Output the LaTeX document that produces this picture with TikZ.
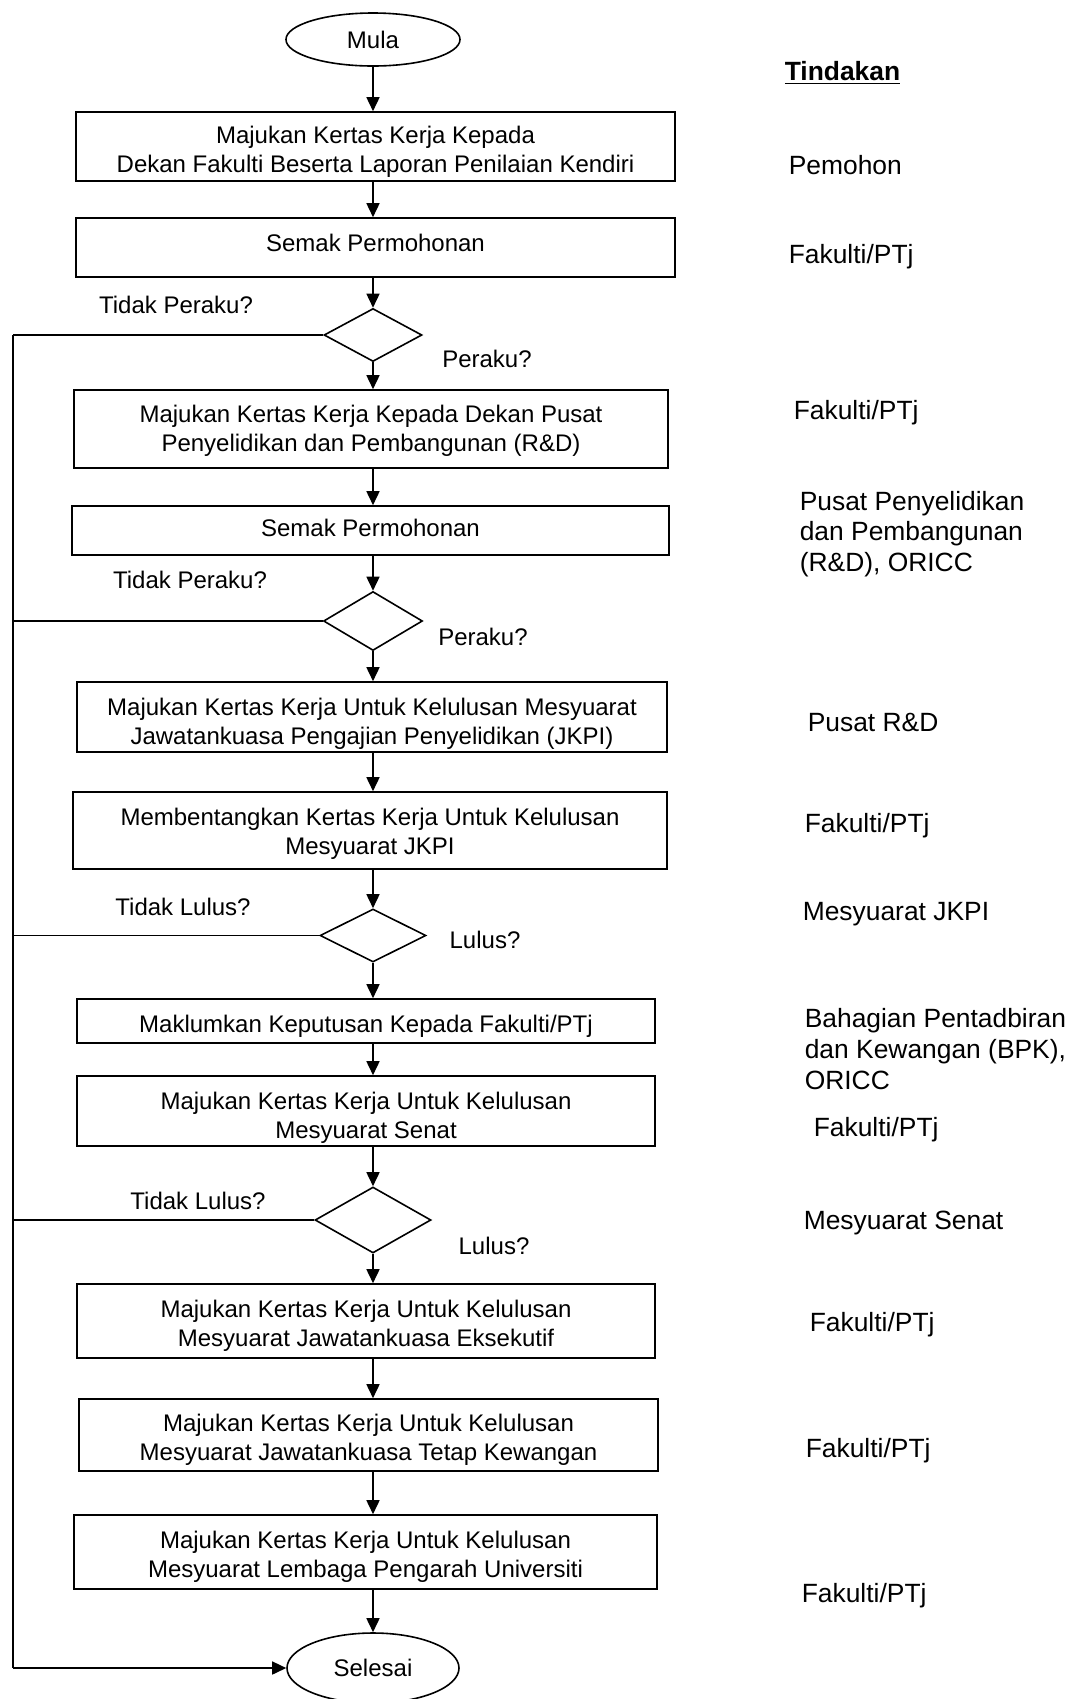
\documentclass[tikz,border=0pt]{standalone}
\usepackage{fontspec}
\setmainfont{Liberation Sans}
\usetikzlibrary{shapes.geometric,arrows.meta}
\begin{document}
\begin{tikzpicture}[x=0.5pt,y=-0.5pt, line width=0.8pt,
  every node/.style={font=\fontsize{12}{14.5}\selectfont},
  proc/.style={draw, rectangle, inner sep=0pt},
  txt/.style={align=center, inner sep=0pt},
  dec/.style={draw, diamond, inner sep=0pt},
  term/.style={draw, ellipse, inner sep=0pt},
  arr/.style={-{Triangle[width=6.5pt,length=7pt]}},
  act/.style={anchor=west, align=left, inner sep=0pt, font=\fontsize{13.2}{15.4}\selectfont},
  lbl/.style={inner sep=0pt}]
\useasboundingbox (0,0) rectangle (1086,1699);
\coordinate (ax) at (373,0);
\coordinate (L) at (13,0);

\node[term, minimum width=87pt, minimum height=26.5pt] (mula) at (373,39.5) {Mula};
\node[proc, minimum width=299.5pt, minimum height=34.5pt] (b1) at (375.5,146.5) {};
\node[txt] (b1t) at ([yshift=-2.7pt]b1.center) {Majukan Kertas Kerja Kepada\\Dekan Fakulti Beserta Laporan Penilaian Kendiri};
\node[proc, minimum width=299.5pt, minimum height=29.5pt] (b2) at (375.5,247.5) {};
\node[txt] (b2t) at ([yshift=2.5pt]b2.center) {Semak Permohonan};
\node[dec, minimum width=49pt, minimum height=26.5pt] (d1) at (373,335) {};
\node[proc, minimum width=297pt, minimum height=39pt] (b3) at (371,429) {};
\node[txt] (b3t) at ([yshift=-0.8pt]b3.center) {Majukan Kertas Kerja Kepada Dekan Pusat\\Penyelidikan dan Pembangunan (R\&D)};
\node[proc, minimum width=298.5pt, minimum height=24.5pt] (b4) at (370.5,530.5) {};
\node[txt] (b4t) at ([yshift=1.5pt]b4.center) {Semak Permohonan};
\node[dec, minimum width=49.5pt, minimum height=29.5pt] (d2) at (373,621) {};
\node[proc, minimum width=295pt, minimum height=35pt] (b5) at (372,717) {};
\node[txt] (b5t) at ([yshift=-3.3pt]b5.center) {Majukan Kertas Kerja Untuk Kelulusan Mesyuarat\\Jawatankuasa Pengajian Penyelidikan (JKPI)};
\node[proc, minimum width=297pt, minimum height=38.5pt] (b6) at (370,830.5) {};
\node[txt] (b6t) at ([yshift=-1.6pt]b6.center) {Membentangkan Kertas Kerja Untuk Kelulusan\\Mesyuarat JKPI};
\node[dec, minimum width=53pt, minimum height=26.5pt] (d3) at (373,935.5) {};
\node[proc, minimum width=289pt, minimum height=22pt] (b7) at (366,1021) {};
\node[txt] (b7t) at ([yshift=-2.5pt]b7.center) {Maklumkan Keputusan Kepada Fakulti/PTj};
\node[proc, minimum width=289pt, minimum height=35pt] (b8) at (366,1111) {};
\node[txt] (b8t) at ([yshift=-3.3pt]b8.center) {Majukan Kertas Kerja Untuk Kelulusan\\Mesyuarat Senat};
\node[dec, minimum width=58pt, minimum height=33pt] (d4) at (373,1220) {};
\node[proc, minimum width=289pt, minimum height=37pt] (b9) at (366,1321) {};
\node[txt] (b9t) at ([yshift=-2.2pt]b9.center) {Majukan Kertas Kerja Untuk Kelulusan\\Mesyuarat Jawatankuasa Eksekutif};
\node[proc, minimum width=289.5pt, minimum height=36pt] (b10) at (368.5,1435) {};
\node[txt] (b10t) at ([yshift=-2.6pt]b10.center) {Majukan Kertas Kerja Untuk Kelulusan\\Mesyuarat Jawatankuasa Tetap Kewangan};
\node[proc, minimum width=291.5pt, minimum height=37pt] (b11) at (365.5,1552) {};
\node[txt] (b11t) at ([yshift=-2.2pt]b11.center) {Majukan Kertas Kerja Untuk Kelulusan\\Mesyuarat Lembaga Pengarah Universiti};
\node[term, minimum width=86pt, minimum height=35pt] (sel) at (373,1668) {Selesai};

% main flow
\draw[arr] (mula.south) -- (b1.north -| ax);
\draw[arr] (b1.south -| ax) -- (b2.north -| ax);
\draw[arr] (b2.south -| ax) -- (d1.north);
\draw[arr] (d1.south) -- (b3.north -| ax);
\draw[arr] (b3.south -| ax) -- (b4.north -| ax);
\draw[arr] (b4.south -| ax) -- (d2.north);
\draw[arr] (d2.south) -- (b5.north -| ax);
\draw[arr] (b5.south -| ax) -- (b6.north -| ax);
\draw[arr] (b6.south -| ax) -- (d3.north);
\draw[arr] (d3.south) -- (b7.north -| ax);
\draw[arr] (b7.south -| ax) -- (b8.north -| ax);
\draw[arr] (b8.south -| ax) -- (d4.north);
\draw[arr] (d4.south) -- (b9.north -| ax);
\draw[arr] (b9.south -| ax) -- (b10.north -| ax);
\draw[arr] (b10.south -| ax) -- (b11.north -| ax);
\draw[arr] (b11.south -| ax) -- (sel.north);

% rejection branches
\draw (d1.west) -- (d1.west -| L);
\draw (d2.west) -- (d2.west -| L);
\draw (d3.west) -- (d3.west -| L);
\draw (d4.west) -- (d4.west -| L);
\draw (d1.west -| L) -- (sel.west -| L);
\draw[arr] (sel.west -| L) -- (sel.west);

% decision labels
\node[lbl] (t1) at (176,305) {Tidak Peraku?};
\node[lbl] (y1) at (487,359) {Peraku?};
\node[lbl] (t2) at (190,580) {Tidak Peraku?};
\node[lbl] (y2) at (483,637) {Peraku?};
\node[lbl] (t3) at (183,907) {Tidak Lulus?};
\node[lbl] (y3) at (485,940) {Lulus?};
\node[lbl] (t4) at (198,1201) {Tidak Lulus?};
\node[lbl] (y4) at (494,1246) {Lulus?};

% action column
\node[act] (h) at (784,73) {\underline{\textbf{Tindakan}}};
\node[act] (a1) at (788,165) {Pemohon};
\node[act] (a2) at (788,257) {Fakulti/PTj};
\node[act] (a3) at (793,413) {Fakulti/PTj};
\node[act] (a4) at (799,534) {Pusat Penyelidikan\\dan Pembangunan\\(R\&D), ORICC};
\node[act] (a5) at (807,722) {Pusat R\&D};
\node[act] (a6) at (804,826) {Fakulti/PTj};
\node[act] (a7) at (802,914) {Mesyuarat JKPI};
\node[act] (a8) at (804,1049) {Bahagian Pentadbiran\\dan Kewangan (BPK),\\ORICC};
\node[act] (a9) at (813,1130) {Fakulti/PTj};
\node[act] (a10) at (803,1223) {Mesyuarat Senat};
\node[act] (a11) at (809,1325) {Fakulti/PTj};
\node[act] (a12) at (805,1451) {Fakulti/PTj};
\node[act] (a13) at (801,1596) {Fakulti/PTj};
\end{tikzpicture}
\end{document}
